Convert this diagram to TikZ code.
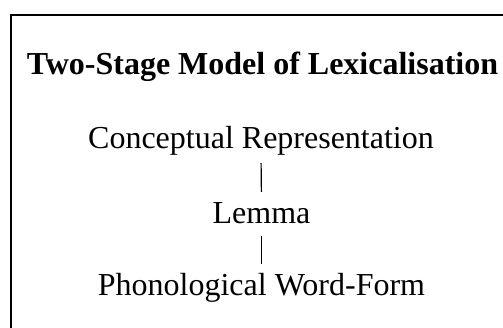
\documentclass[tikz,border=0pt]{standalone}
\usepackage{fontspec}
\setmainfont{Liberation Serif}
\begin{document}
\begin{tikzpicture}[x=1pt,y=-1pt,
  lbl/.style={anchor=base,inner sep=0pt,text height=22pt,text depth=7pt,font=\fontsize{32}{38}\selectfont},
  ttl/.style={lbl,font=\fontsize{32}{38}\selectfont\bfseries},
  link/.style={draw,line width=1.2pt}]
\clip (0,0) rectangle (503,327);
\draw[line width=2pt] (11,340) -- (11,15) -- (540,15);
\node[ttl] (title) at (262.5,74) {Two-Stage Model of Lexicalisation};
\node[lbl] (cr) at (261,148) {Conceptual Representation};
\node[lbl] (lem) at (261.5,223) {Lemma};
\node[lbl] (pw) at (261.5,295) {Phonological Word-Form};
\draw[link,shorten <=8pt,shorten >=9pt] (cr.south) -- (lem.north);
\draw[link,shorten <=6pt,shorten >=9pt] (lem.south) -- (pw.north);
\end{tikzpicture}
\end{document}
